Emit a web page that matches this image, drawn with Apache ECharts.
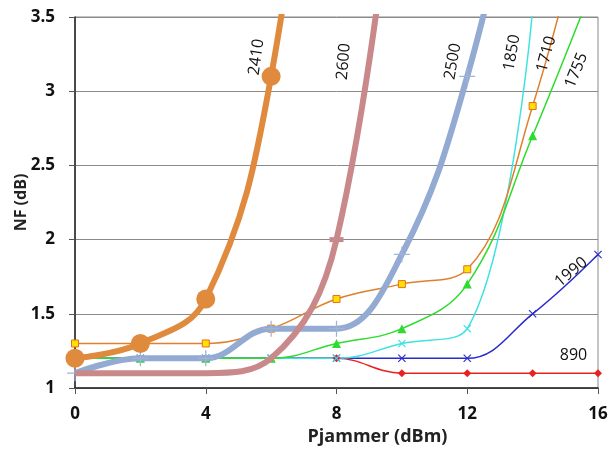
<!DOCTYPE html>
<html><head><meta charset="utf-8">
<script src="https://cdn.jsdelivr.net/npm/echarts@6/dist/echarts.min.js"></script>
<style>html,body{margin:0;padding:0;background:#fff}#c{width:608px;height:464px}</style>
</head><body><div id="c"></div>
<script>
const xValues = [0, 2, 4, 6, 8, 10, 12, 14, 16];
const s890  = [1.2, 1.2, 1.2, 1.2, 1.2, 1.1, 1.1, 1.1, 1.1];
const s1990 = [1.2, 1.2, 1.2, 1.2, 1.2, 1.2, 1.2, 1.5, 1.9];
const s1850 = [1.2, 1.2, 1.2, 1.2, 1.2, 1.3, 1.4, 3.55];
const s1755 = [1.2, 1.2, 1.2, 1.2, 1.3, 1.4, 1.7, 2.7, 3.8];
const s1710 = [1.3, 1.3, 1.3, 1.4, 1.6, 1.7, 1.8, 2.9, 4.6];
const s2500 = [1.1, 1.2, 1.2, 1.4, 1.4, 1.9, 3.1, 5.0];
const s2600 = [1.1, 1.1, 1.1, 1.2, 2.0, 5.0];
const s2410 = [1.2, 1.3, 1.6, 3.1, 6.5];
const xTicks = [0, 4, 8, 12, 16];
const yTicks = [1, 1.5, 2, 2.5, 3, 3.5];
// curve labels: [text, x, y, rotation(deg)]
const curveLabels = [
  ['2410', 5.55, 3.23, 82], ['2600', 8.22, 3.20, 85], ['2500', 11.56, 3.20, 80],
  ['1850', 13.37, 3.26, 80], ['1710', 14.42, 3.25, 75], ['1755', 15.34, 3.14, 68],
  ['1990', 15.18, 1.78, 40], ['890', 15.25, 1.22, 0]
];

const pair = arr => arr.map((v, i) => [xValues[i], v]);
const PLUS = 'path://M0,4.6H10V5.4H0Z M4.6,0H5.4V10H4.6Z';
const CROSS = 'path://M1,0L5,4L9,0L10,1L6,5L10,9L9,10L5,6L1,10L0,9L4,5L0,1Z';
const DASH = 'path://M0,0H10V10H0Z';
function mk(name, data, color, width, symbol, size, extra) {
  return Object.assign({
    name, type: 'line', data: pair(data), smooth: 0.4, clip: true,
    lineStyle: { color, width }, itemStyle: { color },
    symbol, symbolSize: size, showSymbol: true, z: 2
  }, extra || {});
}
const series = [
  mk('890', s890, '#E82222', 1.5, 'diamond', 8),
  mk('1990', s1990, '#2B2BCC', 1.5, CROSS, 8),
  mk('1850', s1850, '#40E2E2', 1.5, CROSS, 8),
  mk('1755', s1755, '#2EDB2E', 1.5, 'triangle', 9),
  mk('1710', s1710, '#E0802C', 1.5, 'rect', 7, { itemStyle: { color: '#FFE000', borderColor: '#E07020', borderWidth: 1 } }),
  mk('2500', s2500, '#93AAD2', 6, PLUS, 16, { itemStyle: { color: '#9FB4D8' }, z: 3 }),
  mk('2600', s2600, '#C9898B', 6, 'none', 1, { z: 4 }),
  mk('2410', s2410, '#E08A3E', 6, 'circle', 19, { z: 5 })
];
// dash marker of 2600 at (8, 2.0)
series[6].data = series[6].data.map((p, i) => i === 4 ? { value: p, symbol: DASH, symbolSize: [14, 5] } : p);

const chart = echarts.init(document.getElementById('c'));
const fam = '"Open Sans", "Liberation Sans", sans-serif';
chart.setOption({
  animation: false,
  backgroundColor: '#fff',
  grid: { left: 75, right: 10, top: 17, bottom: 76, show: true, borderColor: '#888', borderWidth: 1, containLabel: false, outerBoundsMode: 'none' },
  xAxis: {
    type: 'value', min: 0, max: 16, interval: 4,
    name: 'Pjammer (dBm)', nameLocation: 'middle', nameGap: 40, nameMoveOverlap: false,
    nameTextStyle: { fontFamily: fam, fontWeight: 'bold', fontSize: 18, color: '#222', padding: [0, 0, 0, 82] },
    axisLine: { lineStyle: { color: '#222', width: 1.5 } },
    axisTick: { show: true, length: 6, lineStyle: { color: '#555' } },
    axisLabel: { fontFamily: fam, fontWeight: 'bold', fontSize: 17, color: '#111', margin: 18 },
    splitLine: { show: false }
  },
  yAxis: {
    type: 'value', min: 1, max: 3.5, interval: 0.5,
    name: 'NF (dB)', nameLocation: 'middle', nameGap: 46, nameMoveOverlap: false,
    nameTextStyle: { fontFamily: fam, fontWeight: 'bold', fontSize: 16, color: '#222' },
    axisLine: { show: true, lineStyle: { color: '#222', width: 1.5 } },
    axisTick: { show: true, length: 6, lineStyle: { color: '#555' } },
    axisLabel: { fontFamily: fam, fontWeight: 'bold', fontSize: 17, color: '#111', margin: 20 },
    splitLine: { show: true, lineStyle: { color: '#8a8a8a', width: 1 } }
  },
  series
});
const g = curveLabels.map(([t, x, y, r]) => {
  const [px, py] = chart.convertToPixel({ gridIndex: 0 }, [x, y]);
  return {
    type: 'text', x: px, y: py, rotation: r * Math.PI / 180, z: 10,
    style: { text: t, fontFamily: fam, fontSize: 16, fill: '#111', align: 'center', verticalAlign: 'middle' }
  };
});
chart.setOption({ graphic: g });
</script></body></html>
